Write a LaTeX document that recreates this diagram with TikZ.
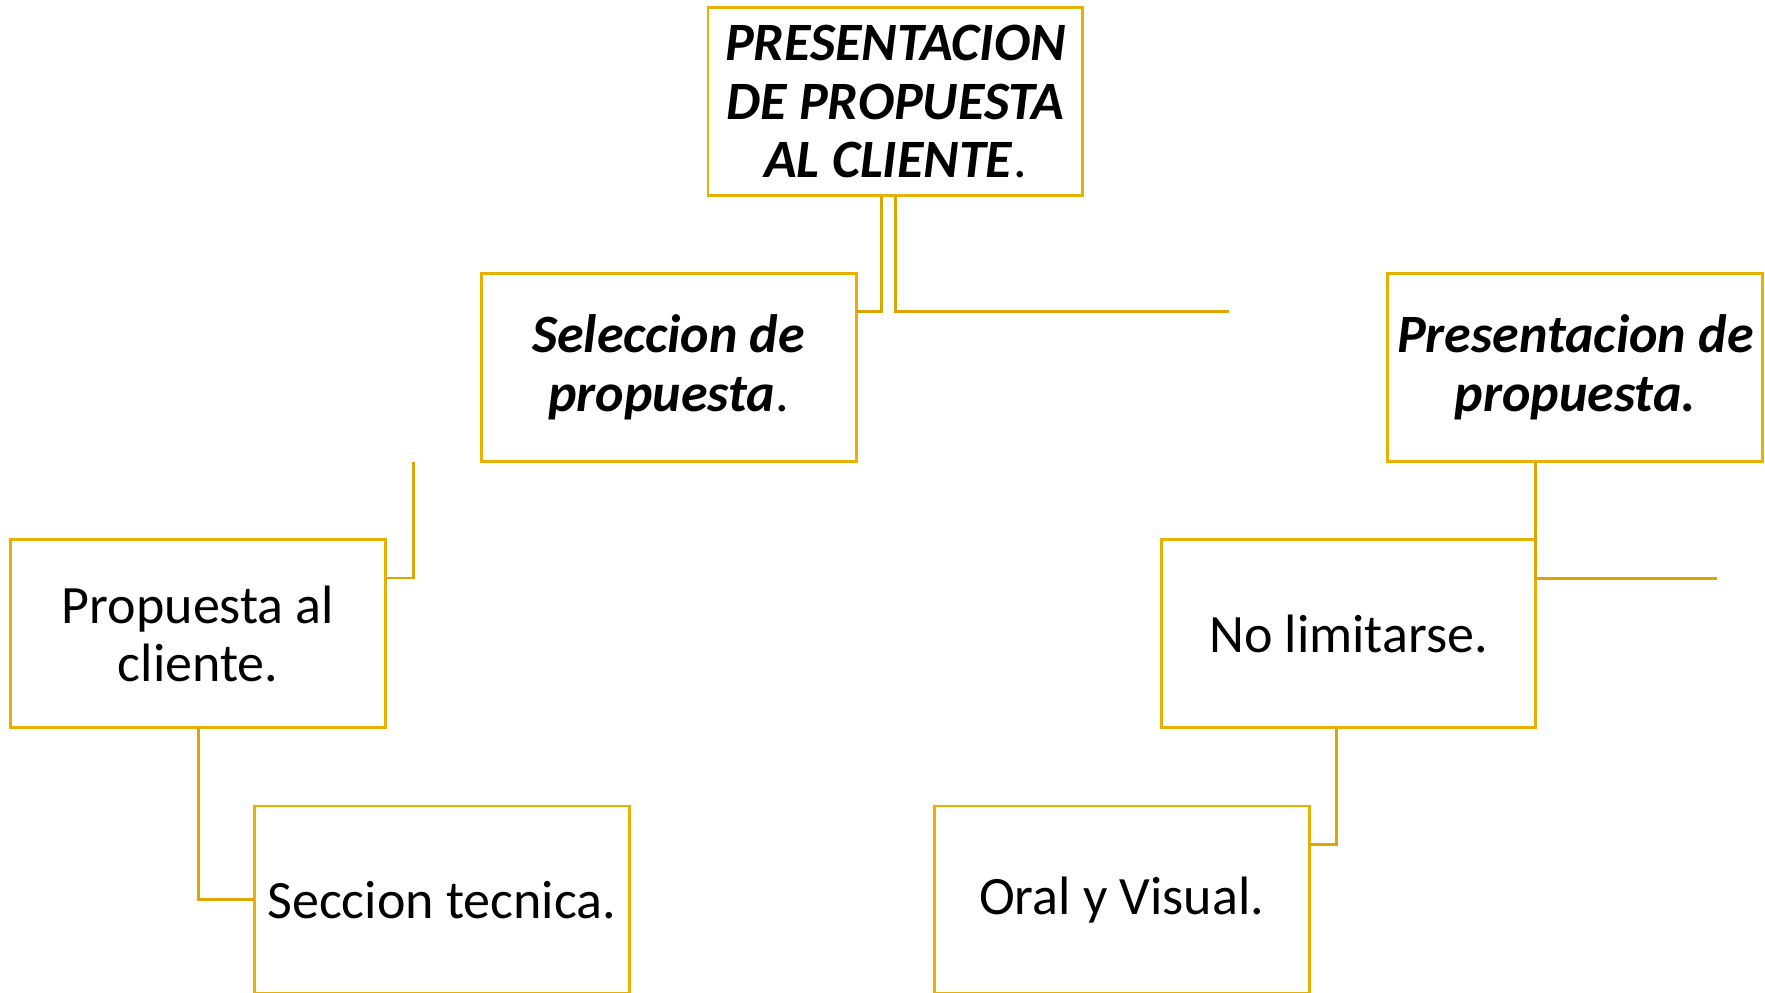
\documentclass[tikz,border=0pt]{standalone}
\usepackage{fontspec}
\setmainfont{Carlito}
\usetikzlibrary{calc}
\definecolor{boxcol}{RGB}{232,176,0}
\definecolor{linecol}{RGB}{218,166,4}
\tikzset{
  box/.style={draw=boxcol, line width=1.3bp, rectangle, minimum width=166.5bp, minimum height=83.5bp,
    inner sep=0pt, outer sep=0pt, align=center, font=\fontsize{24bp}{26bp}\selectfont, text=black},
  conn/.style={draw=linecol, line width=1.3bp}
}
\begin{document}
\begin{tikzpicture}[x=0.5bp, y=-0.5bp]
\useasboundingbox (0,0) rectangle (1568,881.3);
\fill[white] (0,0) rectangle (1568,881.3);
\node[box] (T) at (795.5,90.5) {\textbf{\textit{PRESENTACION}}\\\textbf{\textit{DE PROPUESTA}}\\\textbf{\textit{AL CLIENTE}}.};
\node[box] (S) at (594,326.5) {\textbf{\textit{Seleccion de}}\\\textbf{\textit{propuesta}}.};
\node[box] (R) at (1399.5,326.5) {\textbf{\textit{Presentacion de}}\\\textbf{\textit{propuesta.}}};
\node[box] (P) at (176,563) {Propuesta al\\cliente.};
\node[box] (N) at (1198,563) {No limitarse.};
\node[box] (C) at (392.5,799.5) {Seccion tecnica.};
\node[box] (O) at (996.5,799.5) {Oral y Visual.};
\coordinate (e1) at (1092,277);
\coordinate (f1) at (367,410);
\coordinate (e2) at (1525,514);
\draw[conn] ($(T.south)+(-12,0)$) |- ($(S.north east)+(0,34)$);
\draw[conn] (T.south) |- (e1);
\draw[conn] (f1) |- ($(P.north east)+(0,34)$);
\draw[conn] (N.north east |- R.south) -- (N.north east |- e2) -- (e2);
\draw[conn] (P.south) |- (C.west);
\draw[conn] ($(N.south)+(-11,0)$) |- ($(O.north east)+(0,34)$);
\end{tikzpicture}
\end{document}
